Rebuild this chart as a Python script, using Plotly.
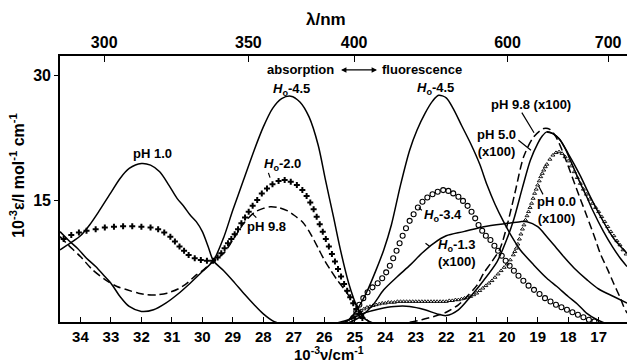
import plotly.graph_objects as go

# ---------------- axes ----------------
nu_ticks = [34, 33, 32, 31, 30, 29, 28, 27, 26, 25, 24, 23, 22, 21, 20, 19, 18, 17]
lam_tick_pos = [33.22, 28.49, 25.02, 19.99, 16.69]
lam_tick_text = ["300", "350", "400", "600", "700"]
eps_ticks = [15, 30]

# ---------------- absorption ----------------
abs_Ho45_nu = [34.67, 34.4, 34.1, 33.8, 33.5, 33.2, 33.0, 32.7, 32.4, 32.0, 31.6, 31.2, 30.8, 30.4, 30.0, 29.64,
               29.3, 29.0, 28.65, 28.3, 28.0, 27.7, 27.4, 27.1, 26.8, 26.5, 26.2, 25.96, 25.7, 25.47, 25.2, 24.93, 24.7, 24.4]
abs_Ho45_eps = [11.2, 10.2, 9.2, 8.0, 7.0, 5.8, 5.0, 3.4, 2.2, 1.6, 1.8, 2.6, 3.7, 5.0, 6.4, 7.7,
                10.5, 13.8, 17.4, 21.0, 23.8, 26.0, 27.2, 27.5, 26.8, 25.0, 21.6, 17.4, 13.0, 9.0, 5.0, 2.2, 0.8, 0.2]

abs_pH10_nu = [34.67, 34.3, 34.0, 33.7, 33.4, 33.0, 32.7, 32.4, 32.0, 31.7, 31.4, 31.1, 30.83, 30.6, 30.4, 30.2,
               30.0, 29.8, 29.64, 29.3, 29.0, 28.6, 28.3, 28.0, 27.66, 27.3]
abs_pH10_eps = [9.0, 9.9, 10.7, 12.0, 13.6, 15.9, 17.6, 18.8, 19.4, 19.2, 18.4, 16.8, 15.2, 14.2, 13.2, 12.4,
                11.2, 9.3, 7.7, 6.5, 5.3, 3.6, 2.4, 1.3, 0.4, 0.0]

abs_pH98_nu = [34.67, 34.4, 34.0, 33.6, 33.18, 32.8, 32.47, 32.1, 31.8, 31.5, 31.16, 30.8, 30.5, 30.2, 29.96, 29.64,
               29.3, 29.0, 28.64, 28.3, 28.0, 27.77, 27.5, 27.2, 27.0, 26.7, 26.46, 26.2, 26.0, 25.8, 25.58, 25.35,
               25.14, 24.92, 24.7, 24.5]
abs_pH98_eps = [10.6, 9.6, 8.2, 6.6, 5.4, 4.6, 4.2, 3.8, 3.6, 3.6, 3.8, 4.3, 5.0, 6.0, 6.6, 7.7,
                8.6, 10.2, 12.2, 13.5, 14.0, 14.2, 14.1, 13.7, 13.2, 12.3, 11.0, 9.2, 7.8, 6.6, 5.4, 4.3,
                3.2, 2.2, 1.0, 0.2]

abs_Ho20_nu = [34.55, 34.3, 34.05, 33.8, 33.5, 33.2, 32.9, 32.6, 32.3, 32.0, 31.7, 31.45, 31.25, 31.05, 30.9, 30.75,
               30.6, 30.45, 30.25, 30.05, 29.85, 29.65, 29.5, 29.38, 29.27, 29.16, 29.05, 28.94, 28.83, 28.72, 28.6,
               28.48, 28.35, 28.2, 28.05, 27.88, 27.7, 27.5, 27.3, 27.1, 26.9, 26.72, 26.58, 26.46, 26.35, 26.25,
               26.15, 26.05, 25.95, 25.85, 25.75, 25.65, 25.55, 25.45, 25.35, 25.25, 25.15, 25.05, 24.95, 24.85, 24.75]
abs_Ho20_eps = [10.3, 10.8, 11.1, 11.3, 11.5, 11.7, 11.8, 11.85, 11.85, 11.8, 11.7, 11.5, 11.1, 10.6, 10.0, 9.4,
                8.9, 8.4, 8.0, 7.8, 7.7, 7.7, 8.1, 8.6, 9.2, 9.8, 10.3, 10.9, 11.5, 12.2, 12.9,
                13.6, 14.3, 15.0, 15.8, 16.4, 16.9, 17.3, 17.4, 17.2, 16.8, 16.2, 15.5, 14.7, 13.9, 13.0,
                12.1, 11.2, 10.3, 9.4, 8.5, 7.6, 6.7, 5.8, 4.9, 4.1, 3.3, 2.6, 1.9, 1.3, 0.8]

# ---------------- fluorescence ----------------
fl_Ho45_nu = [25.4, 25.2, 24.93, 24.6, 24.3, 24.05, 23.8, 23.5, 23.2, 22.96, 22.7, 22.45, 22.25, 22.0, 21.77, 21.5,
              21.2, 20.9, 20.66, 20.4, 20.12, 19.85, 19.57, 19.13, 18.7, 18.37, 18.0, 17.7, 17.4, 17.05, 16.8]
fl_Ho45_eps = [0.2, 0.6, 1.8, 4.0, 6.6, 9.0, 12.0, 16.8, 21.0, 23.4, 25.4, 26.9, 27.6, 27.3, 26.0, 24.0,
               21.8, 19.3, 16.8, 14.5, 12.4, 10.6, 9.0, 7.2, 5.6, 4.6, 3.4, 2.5, 1.4, 0.6, 0.2]

fl_Ho13_nu = [25.2, 24.8, 24.4, 24.05, 23.6, 23.18, 22.8, 22.41, 22.0, 21.43, 20.77, 20.0, 19.57, 19.35, 19.0, 18.7,
              18.4, 18.15, 17.8, 17.38, 17.0, 16.51, 16.07]
fl_Ho13_eps = [0.2, 1.0, 2.4, 4.2, 5.8, 7.2, 8.6, 9.8, 10.7, 11.2, 11.8, 12.2, 12.4, 12.4, 11.8, 10.6,
               9.3, 8.2, 6.8, 5.4, 4.3, 3.4, 2.6]

fl_pH50_nu = [25.6, 25.2, 24.7, 24.2, 23.7, 23.2, 22.7, 22.3, 22.0, 21.6, 21.2, 20.8, 20.33, 20.0, 19.79, 19.5,
              19.24, 19.0, 18.85, 18.7, 18.5, 18.3, 18.1, 17.93, 17.6, 17.38, 17.2, 16.84, 16.55, 16.29, 16.07]
fl_pH50_eps = [0.2, 0.6, 1.4, 1.9, 2.2, 2.2, 1.8, 1.3, 1.1, 1.8, 3.4, 5.2, 7.6, 10.4, 12.6, 16.5,
               19.8, 21.8, 22.7, 23.2, 23.0, 22.4, 21.2, 19.8, 17.0, 15.3, 13.8, 11.2, 9.4, 8.0, 7.0]

fl_outer_nu = [18.7, 18.5, 18.26, 18.0, 17.8, 17.6, 17.3, 17.05, 16.8, 16.51, 16.3, 16.07]
fl_outer_eps = [23.2, 23.0, 22.2, 20.6, 19.3, 17.9, 15.6, 13.8, 12.1, 10.4, 9.5, 8.6]

fl_pH98_nu = [23.2, 22.8, 22.4, 22.0, 21.6, 21.32, 21.0, 20.77, 20.5, 20.23, 20.0, 19.75, 19.46, 19.13, 18.8, 18.6,
              18.4, 18.2, 17.93, 17.65, 17.38, 17.1, 16.95, 16.7, 16.51, 16.3, 16.18, 16.07]
fl_pH98_eps = [0.3, 0.6, 1.0, 1.5, 2.4, 3.4, 4.7, 6.2, 7.6, 9.2, 12.0, 15.8, 20.2, 22.6, 23.6, 23.5,
               22.6, 21.0, 18.4, 15.6, 13.0, 10.2, 8.6, 6.6, 5.0, 3.3, 2.2, 1.4]

fl_Ho34_nu = [25.05, 24.95, 24.85, 24.72, 24.58, 24.42, 24.25, 24.1, 23.97, 23.85, 23.74, 23.63, 23.53, 23.43, 23.32,
              23.2, 23.07, 22.93, 22.78, 22.62, 22.45, 22.28, 22.1, 21.93, 21.77, 21.6, 21.45, 21.3, 21.17, 21.05,
              20.94, 20.82, 20.7, 20.55, 20.42, 20.3, 20.18, 20.05, 19.92, 19.78, 19.63, 19.47, 19.3, 19.12, 18.94,
              18.76, 18.58, 18.4, 18.22, 18.04, 17.86, 17.68, 17.5, 17.32, 17.14]
fl_Ho34_eps = [0.8, 1.6, 2.4, 3.2, 3.9, 4.5, 5.0, 5.6, 6.3, 7.1, 8.0, 8.9, 9.8, 10.7, 11.6,
               12.5, 13.3, 14.1, 14.8, 15.3, 15.7, 16.0, 16.2, 16.1, 15.8, 15.4, 14.9, 14.3, 13.6, 12.8,
               12.0, 11.3, 10.7, 10.2, 9.5, 8.9, 8.3, 7.7, 7.1, 6.5, 5.9, 5.3, 4.7, 4.2, 3.7,
               3.2, 2.8, 2.4, 2.1, 1.8, 1.5, 1.2, 0.9, 0.6, 0.4]

fl_pH00_nu = [25.2, 25.1, 25.0, 24.9, 24.8, 24.7, 24.6, 24.5, 24.4, 24.3, 24.2, 24.1, 24.0, 23.9, 23.8, 23.7, 23.6,
              23.5, 23.4, 23.3, 23.2, 23.1, 23.0, 22.9, 22.8, 22.7, 22.6, 22.5, 22.4, 22.3, 22.2, 22.1, 22.0, 21.9,
              21.8, 21.7, 21.6, 21.5, 21.4, 21.3, 21.2, 21.1, 21.0, 20.9, 20.8, 20.7, 20.6, 20.5, 20.4, 20.3, 20.2,
              20.1, 20.0, 19.9, 19.8, 19.75, 19.7, 19.65, 19.6, 19.55, 19.5, 19.45, 19.4, 19.35, 19.3, 19.25, 19.2,
              19.15, 19.1, 19.05, 19.0, 18.95, 18.9, 18.85, 18.8, 18.75, 18.7, 18.6, 18.5, 18.4, 18.3, 18.2, 18.1,
              18.0, 17.9, 17.8, 17.7, 17.6, 17.5, 17.4, 17.3, 17.2, 17.1, 17.0, 16.9, 16.8, 16.7, 16.6, 16.5, 16.4,
              16.3, 16.2, 16.1]
fl_pH00_eps = [0.4, 0.8, 1.1, 1.4, 1.7, 1.9, 2.1, 2.2, 2.3, 2.4, 2.5, 2.6, 2.6, 2.7, 2.7, 2.7, 2.8,
               2.8, 2.8, 2.8, 2.8, 2.8, 2.8, 2.8, 2.8, 2.8, 2.8, 2.8, 2.8, 2.8, 2.8, 2.8, 2.8, 2.9,
               2.9, 3.0, 3.0, 3.1, 3.2, 3.3, 3.4, 3.6, 3.8, 4.1, 4.4, 4.7, 5.0, 5.3, 5.7, 6.1, 6.5,
               6.9, 7.3, 7.8, 8.4, 8.8, 9.2, 9.7, 10.3, 10.9, 11.5, 12.0, 12.6, 13.1, 13.6, 14.1, 14.6,
               15.2, 15.8, 16.3, 16.8, 17.3, 17.8, 18.2, 18.6, 19.0, 19.3, 19.9, 20.4, 20.7, 20.8, 20.6, 20.2,
               19.7, 19.1, 18.4, 17.7, 17.0, 16.3, 15.7, 15.1, 14.6, 14.1, 13.6, 13.0, 12.4, 11.8, 11.2, 10.7, 10.1,
               9.6, 9.0, 8.5]

FONT = "Liberation Sans, Arial, sans-serif"
BLACK = "black"
LW = 1.5
WT = "bold"

fig = go.Figure()


def line(x, y, dash="solid", xaxis="x"):
    fig.add_trace(go.Scatter(x=x, y=y, mode="lines", xaxis=xaxis,
                             line=dict(color=BLACK, width=LW, dash=dash, shape="spline", smoothing=0.8),
                             hoverinfo="skip"))


def marks(x, y, symbol, size, lw=1.0):
    fig.add_trace(go.Scatter(x=x, y=y, mode="markers",
                             marker=dict(symbol=symbol, size=size, color=BLACK,
                                         line=dict(color=BLACK, width=lw)),
                             hoverinfo="skip"))


line(abs_Ho45_nu, abs_Ho45_eps, xaxis="x2")
line(abs_pH10_nu, abs_pH10_eps)
line(abs_pH98_nu, abs_pH98_eps, dash="8px,4px")
marks(abs_Ho20_nu, abs_Ho20_eps, "cross", 5, 0)

line(fl_Ho45_nu, fl_Ho45_eps)
line(fl_Ho13_nu, fl_Ho13_eps)
line(fl_pH50_nu, fl_pH50_eps)
line(fl_outer_nu, fl_outer_eps)
line(fl_pH98_nu, fl_pH98_eps, dash="8px,4px")
marks(fl_Ho34_nu, fl_Ho34_eps, "circle-open", 5, 1.1)
marks(fl_pH00_nu, fl_pH00_eps, "triangle-up-open", 3.5, 0.9)

xr = [34.67, 16.07]
tf = lambda s: dict(size=s, family=FONT, color=BLACK, weight=WT)
fig.update_layout(
    width=627, height=363,
    margin=dict(l=60, r=0, t=56, b=41),
    paper_bgcolor="white", plot_bgcolor="white",
    showlegend=False,
    font=dict(family=FONT, color=BLACK, size=13),
    xaxis=dict(range=xr, tickvals=nu_ticks, ticktext=[str(t) for t in nu_ticks],
               ticks="inside", ticklen=5, tickwidth=1.4, tickcolor=BLACK,
               showline=True, linecolor=BLACK, linewidth=1.6,
               showgrid=False, zeroline=False, tickfont=tf(15)),
    xaxis2=dict(range=xr, overlaying="x", side="top", tickvals=lam_tick_pos, ticktext=lam_tick_text,
                ticks="inside", ticklen=6, tickwidth=1.4, tickcolor=BLACK,
                showline=True, linecolor=BLACK, linewidth=1.6,
                showgrid=False, zeroline=False, tickfont=tf(16)),
    yaxis=dict(range=[0.33, 32.33], tickvals=eps_ticks, ticks="outside", ticklen=4, tickwidth=1.4,
               tickcolor=BLACK, showline=True, linecolor=BLACK, linewidth=1.6,
               showgrid=False, zeroline=False, tickfont=tf(16)),
)

ann = []


def label(x, y, text, size=13, xanchor="center"):
    ann.append(dict(x=x, y=y, xref="x", yref="y", text=text, showarrow=False,
                    font=tf(size), xanchor=xanchor, yanchor="middle"))


def leader(x0, y0, x1, y1, head=0, side="end"):
    ann.append(dict(x=x1, y=y1, ax=x0, ay=y0, xref="x", yref="y", axref="x", ayref="y", text="",
                    showarrow=True, arrowhead=head, arrowside=side, arrowwidth=1.2, arrowsize=0.9,
                    arrowcolor=BLACK))


Ho = "<i>H</i><sub>o</sub>"
label(31.62, 20.66, "pH 1.0")
label(27.09, 28.3, Ho + "-4.5")
label(27.36, 19.3, Ho + "-2.0")
label(27.88, 11.76, "pH 9.8")
label(22.34, 28.4, Ho + "-4.5")
label(25.62, 30.65, "absorption", xanchor="right")
label(24.17, 30.65, "fluorescence", xanchor="left")
leader(25.5, 30.65, 24.27, 30.65, head=2, side="end+start")
label(19.22, 26.55, "pH 9.8 (x100)")
label(20.34, 21.86, "pH 5.0<br>(x100)")
label(18.37, 13.8, "pH 0.0<br>(x100)")
label(22.12, 13.2, Ho + "-3.4")
label(21.65, 8.6, Ho + "-1.3<br>(x100)")

leader(19.55, 25.7, 19.12, 23.1)
leader(19.68, 22.35, 19.22, 21.0)
leader(18.8, 15.5, 18.97, 16.7)
leader(27.85, 18.45, 27.78, 17.7)
leader(28.18, 12.7, 28.37, 13.4)
leader(22.5, 9.3, 22.68, 9.8)
leader(22.75, 13.6, 22.9, 14.1)

# axis titles
ann.append(dict(x=0.469, y=1.139, xref="paper", yref="paper", text="λ/nm", showarrow=False,
                font=tf(17), xanchor="center", yanchor="middle"))
ann.append(dict(x=0.474, y=-0.12, xref="paper", yref="paper", text="10<sup>-3</sup>ν/cm<sup>-1</sup>",
                showarrow=False, font=tf(15), xanchor="center", yanchor="middle"))
ann.append(dict(x=-0.076, y=0.553, xref="paper", yref="paper",
                text="10<sup>-3</sup>ε/l mol<sup>-1</sup> cm<sup>-1</sup>", textangle=-90,
                showarrow=False, font=tf(16), xanchor="center", yanchor="middle"))

fig.update_layout(annotations=ann)
fig.write_html("out.html")
